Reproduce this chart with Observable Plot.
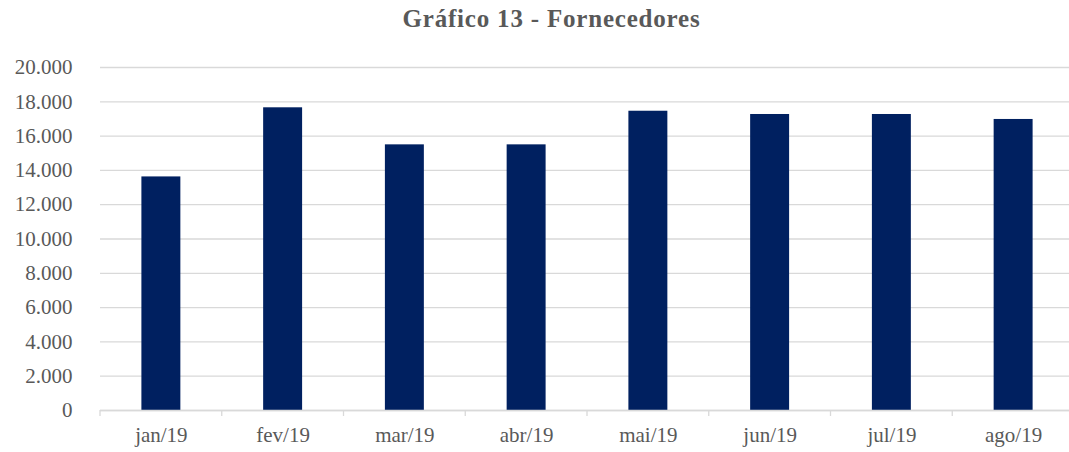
<!DOCTYPE html>
<html>
<head>
<meta charset="utf-8">
<script src="https://cdn.jsdelivr.net/npm/d3@7"></script>
<script src="https://cdn.jsdelivr.net/npm/@observablehq/plot@0.6"></script>
<style>
  body { margin: 0; background: #fff; overflow: hidden; }
  #title { height: 40px; line-height: 38px; text-align: center; padding-left: 34px; font-family: "Liberation Serif", serif; font-weight: bold; font-size: 25px; color: #595959; letter-spacing: 0.8px; }
</style>
</head>
<body>
<div id="title">Gráfico 13 - Fornecedores</div>
<div id="chart"></div>
<script>
const months = ["jan/19", "fev/19", "mar/19", "abr/19", "mai/19", "jun/19", "jul/19", "ago/19"];
const values = [13620, 17650, 15490, 15490, 17450, 17260, 17260, 16970];
const yTicks = [0, 2000, 4000, 6000, 8000, 10000, 12000, 14000, 16000, 18000, 20000];

const data = months.map((m, i) => ({month: m, value: values[i]}));
const fmt = d3.formatLocale({decimal: ",", thousands: ".", grouping: [3], currency: ["R$", ""]}).format(",d");

const categoryTicks = (index, scales, values, dims) => {
  const g = d3.create("svg:g");
  const x = scales.x;
  const step = x.step();
  const gap = (step - x.bandwidth()) / 2;
  const yb = dims.height - dims.marginBottom;
  const bounds = months.map(m => x(m) - gap);
  bounds.push(x(months[months.length - 1]) + x.bandwidth() + gap);
  for (const bx of bounds) {
    g.append("line").attr("x1", bx).attr("x2", bx).attr("y1", yb).attr("y2", yb + 6)
      .attr("stroke", "#d9d9d9").attr("stroke-width", 1.3);
  }
  return g.node();
};

const chart = Plot.plot({
  width: 1069,
  height: 412,
  marginTop: 27,
  marginBottom: 42,
  marginLeft: 100,
  marginRight: -5,
  style: {fontFamily: "Liberation Serif, serif", fontSize: "21px", color: "#595959", background: "#fff", overflow: "hidden"},
  x: {domain: months, paddingInner: 0.68, paddingOuter: 0.34, round: false, label: null},
  y: {domain: [0, 20000], label: null},
  marks: [
    Plot.gridY(yTicks, {stroke: "#d9d9d9", strokeOpacity: 1, strokeWidth: 1.3}),
    Plot.barY(data, {x: "month", y: "value", fill: "#002060"}),
    Plot.ruleY([0], {stroke: "#d9d9d9", strokeWidth: 1.3}),
    categoryTicks,
    Plot.axisX({tickSize: 0, tickPadding: 17, fontSize: 21}),
    Plot.axisY(yTicks, {tickSize: 0, tickPadding: 28, tickFormat: fmt, fontSize: 21})
  ]
});
document.getElementById("chart").appendChild(chart);
</script>
</body>
</html>
